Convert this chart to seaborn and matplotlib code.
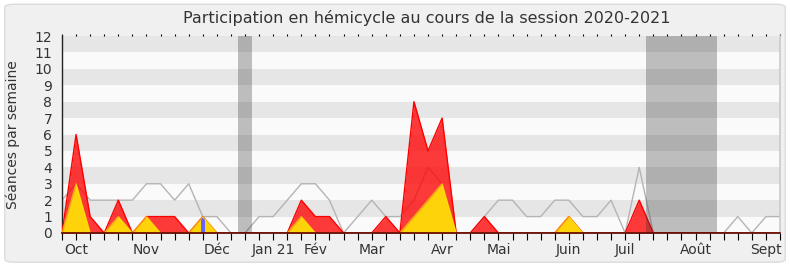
import matplotlib
matplotlib.use("Agg")
import matplotlib.pyplot as plt
import seaborn as sns
import pandas as pd
from matplotlib.patches import FancyBboxPatch

# ---- data ----
weeks = list(range(52))
total_seances = [2, 3, 2, 2, 2, 2, 3, 3, 2, 3, 1, 1, 0,
                 0, 1, 1, 2, 3, 3, 2, 0, 1, 2, 1, 1, 2,
                 4, 3, 0, 0, 1, 2, 2, 1, 1, 2, 2, 1, 1,
                 2, 0, 4, 0, 0, 0, 0, 0, 0, 1, 0, 1, 1]
presences = [0, 6, 1, 0, 2, 0, 1, 1, 1, 0, 1, 0, 0,
             0, 0, 0, 0, 2, 1, 1, 0, 0, 0, 1, 0, 8,
             5, 7, 0, 0, 1, 0, 0, 0, 0, 0, 1, 0, 0,
             0, 0, 2, 0, 0, 0, 0, 0, 0, 0, 0, 0, 0]
interventions = [0, 3, 0, 0, 1, 0, 1, 0, 0, 0, 1, 0, 0,
                 0, 0, 0, 0, 1, 0, 0, 0, 0, 0, 0, 0, 1,
                 2, 3, 0, 0, 0, 0, 0, 0, 0, 0, 1, 0, 0,
                 0, 0, 0, 0, 0, 0, 0, 0, 0, 0, 0, 0, 0]
questions = [0, 0, 0, 0, 0, 0, 0, 0, 0, 0, 1, 0, 0,
             0, 0, 0, 0, 0, 0, 0, 0, 0, 0, 0, 0, 0,
             0, 0, 0, 0, 0, 0, 0, 0, 0, 0, 0, 0, 0,
             0, 0, 0, 0, 0, 0, 0, 0, 0, 0, 0, 0, 0]
month_ticks = [1, 6, 11, 15, 18, 22, 27, 31, 36, 40, 45, 50]
month_labels = ["Oct", "Nov", "Déc", "Jan 21", "Fév", "Mar", "Avr",
                "Mai", "Juin", "Juil", "Août", "Sept"]
vacances = [(12.5, 13.5), (41.5, 46.5)]
y_ticks = list(range(13))

df = pd.DataFrame({"semaine": weeks, "total": total_seances,
                   "presences": presences, "interventions": interventions,
                   "questions": questions})

sns.set_theme(style="white")
plt.rcParams["font.family"] = ["DejaVu Sans"]

fig = plt.figure(figsize=(7.9, 2.67), dpi=100, facecolor="white")
fig.patches.append(FancyBboxPatch((0.006, 0.018), 0.988, 0.966,
                                  boxstyle="round,pad=0,rounding_size=0.012",
                                  transform=fig.transFigure, fc="#f0f0f0",
                                  ec="#dcdcdc", lw=1.0, zorder=-10))
ax = fig.add_axes([62 / 790, 1 - 233 / 267, (780 - 62) / 790, (233 - 36) / 267])
ax.set_facecolor("#fafafa")

for i in y_ticks[:-1]:
    if i % 2 == 1:
        ax.axhspan(i, i + 1, color="#e6e6e6", lw=0, zorder=0)

sns.lineplot(data=df, x="semaine", y="total", ax=ax, color="#b4b4b4",
             lw=1.0, zorder=2)

ax.fill_between(df["semaine"], 0, df["presences"], color="#ff0000",
                alpha=0.77, lw=0, zorder=3)
ax.plot(df["semaine"], df["presences"], color="#ff0000", lw=1.0, zorder=4)
yel = ax.fill_between(df["semaine"], 0, df["interventions"], color="#ffd30a",
                      lw=0, zorder=5)
ax.plot(df["semaine"], df["interventions"], color="#ffee00", alpha=0.6,
        lw=1.0, zorder=6)
bars = ax.bar(df["semaine"], df["questions"], width=0.3, color="#6464ff",
              lw=0, zorder=5.5)
clip = yel.get_paths()[0]
for b in bars:
    b.set_clip_path(clip, transform=ax.transData)

for a, b in vacances:
    ax.axvspan(a, b, color="#323232", alpha=0.3, lw=0, zorder=7)

ax.set_xlim(0, 51)
ax.set_ylim(0, 12)
ax.set_yticks(y_ticks)
ax.set_yticklabels([str(v) for v in y_ticks])
ax.set_xticks(weeks)
lab = ["" for _ in weeks]
for p, l in zip(month_ticks, month_labels):
    lab[p] = l
ax.set_xticklabels(lab)
ax.tick_params(axis="both", labelsize=10, colors="#333333", length=5,
               width=0.8, color="black", pad=2)
ax.tick_params(axis="x", top=True, bottom=True, direction="out")
for t in ax.xaxis.get_major_ticks():
    t.tick2line.set_markersize(1.5)

ax.spines["top"].set_visible(False)
ax.spines["right"].set_color("#cccccc")
ax.spines["left"].set_color("#222222")
ax.spines["bottom"].set_color("#5a0000")
ax.spines["left"].set_linewidth(1.0)
ax.spines["bottom"].set_linewidth(1.2)
ax.spines["bottom"].set_zorder(8)

ax.set_xlabel("")
ax.set_ylabel("Séances par semaine", fontsize=10, color="#333333", va="center")
ax.yaxis.set_label_coords(-(62 - 13) / 718, 0.5)
fig.text(0.54, 1 - 18 / 267, "Participation en hémicycle au cours de la session 2020-2021",
         ha="center", va="center", fontsize=11.5, color="#333333")

fig.savefig("out.png", dpi=100, facecolor=fig.get_facecolor())
